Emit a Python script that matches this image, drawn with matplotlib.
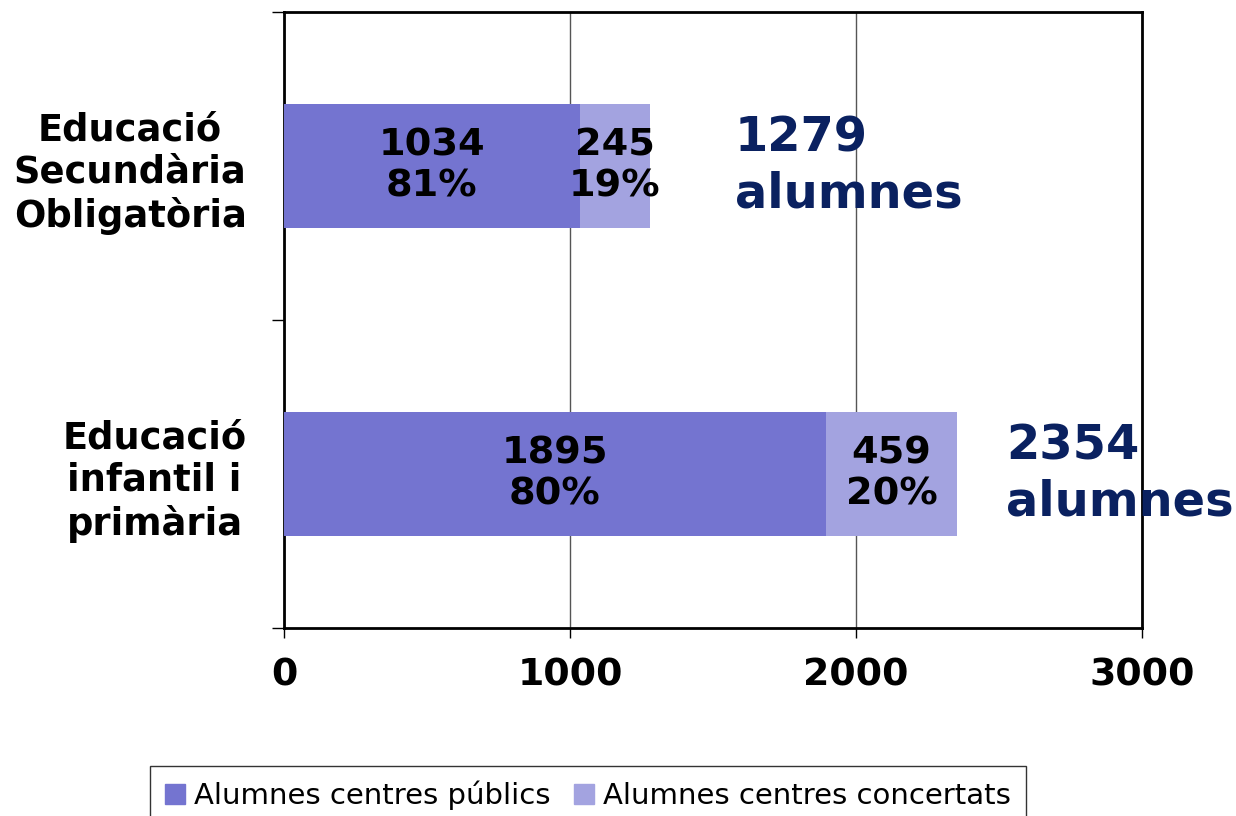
import matplotlib
matplotlib.use("Agg")
import matplotlib.pyplot as plt
from matplotlib.patches import Patch

# data
categories = ["Educació\ninfantil i\nprimària", "Educació\nSecundària\nObligatòria"]
publics = [1895, 1034]
concertats = [459, 245]
pct_publics = [80, 81]
pct_concertats = [20, 19]
series_names = ["Alumnes centres públics", "Alumnes centres concertats"]
total_label_x = [2524, 1577]

col_pub = "#7474D0"
col_con = "#A3A3E0"
col_total = "#0A2160"

plt.rcParams["font.family"] = ["DejaVu Sans"]

fig = plt.figure(figsize=(12.36, 8.16), dpi=100)
ax = fig.add_axes([284 / 1236, 1 - 628 / 816, 858 / 1236, 616 / 816])

y = list(range(len(categories)))
ax.barh(y, publics, height=0.4, color=col_pub, zorder=3)
ax.barh(y, concertats, left=publics, height=0.4, color=col_con, zorder=3)

for i in y:
    ax.text(publics[i] / 2, i, f"{publics[i]}\n{pct_publics[i]}%", ha="center", va="center",
            fontsize=27.5, fontweight="bold", linespacing=1.2, zorder=4)
    ax.text(publics[i] + concertats[i] / 2, i, f"{concertats[i]}\n{pct_concertats[i]}%",
            ha="center", va="center", fontsize=27.5, fontweight="bold", linespacing=1.2, zorder=4)
    total = publics[i] + concertats[i]
    ax.text(total_label_x[i], i, f"{total}\nalumnes", ha="left", va="center",
            fontsize=34.5, fontweight="bold", color=col_total, linespacing=1.25, zorder=4,
            clip_on=False)

ax.set_xlim(0, 3000)
ax.set_ylim(-0.5, 1.5)
ax.set_xticks([0, 1000, 2000, 3000])
ax.tick_params(axis="x", labelsize=27.3, length=7, width=1, pad=14)
for lab in ax.get_xticklabels():
    lab.set_fontweight("bold")

ax.set_yticks(y)
ax.set_yticklabels(categories, fontsize=26.5, fontweight="bold", linespacing=1.2)
for lab in ax.get_yticklabels():
    lab.set_multialignment("center")
ax.tick_params(axis="y", which="major", length=0, pad=27)
ax.set_yticks([-0.5, 0.5, 1.5], minor=True)
ax.tick_params(axis="y", which="minor", length=9, width=1)

ax.grid(axis="x", color="#555555", linewidth=1, zorder=1)
for s in ax.spines.values():
    s.set_linewidth(2)
    s.set_color("black")

handles = [Patch(color=col_pub), Patch(color=col_con)]
fig.legend(handles, series_names, loc="upper center", bbox_to_anchor=(588 / 1236, 1 - 766 / 816),
           ncol=2, fontsize=21, frameon=True, fancybox=False, edgecolor="black",
           handlelength=0.7, handleheight=0.7, handletextpad=0.3, columnspacing=0.8,
           borderpad=0.5, borderaxespad=0)

fig.savefig("out.png", dpi=100)
